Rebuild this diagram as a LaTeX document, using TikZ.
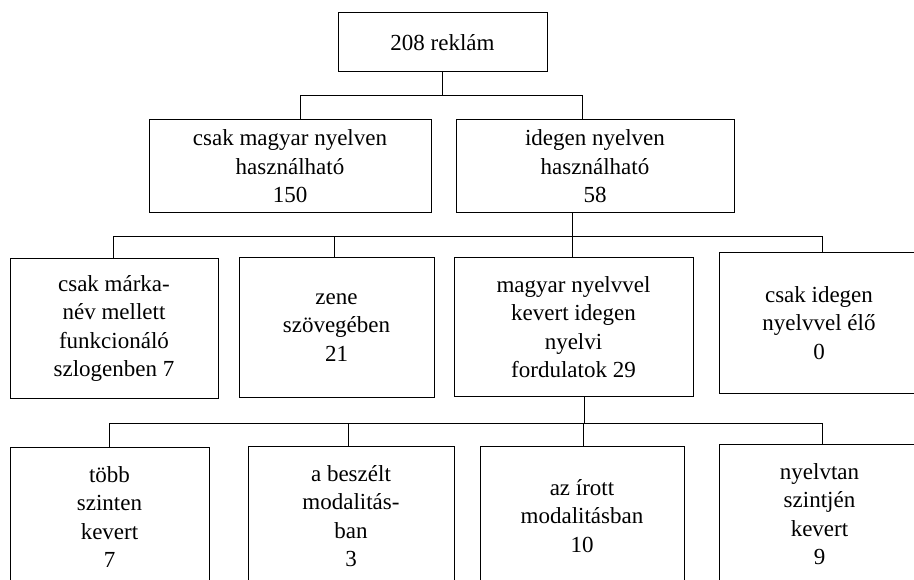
\documentclass[tikz,border=0pt]{standalone}
\usepackage{fontspec}
\setmainfont{Liberation Serif}
\usetikzlibrary{positioning}
\tikzset{
  box/.style={draw=black, line width=1pt, fill=white, inner sep=0pt, align=center,
    font={\fontsize{23}{28.5}\selectfont}},
  link/.style={draw=black, line width=1pt}
}
\begin{document}
\begin{tikzpicture}[x=1pt,y=-1pt]
\path[use as bounding box] (0,0) rectangle (914,580);
\clip (0,0) rectangle (914,580);
% level 1
\node[box, minimum width=209pt, minimum height=59pt] (top) at (442.5,42.5) {208 reklám};
% level 2
\node[box, minimum width=282pt, minimum height=93pt] (l2a) at (290,166.5) {csak magyar nyelven\\használható\\150};
\node[box, minimum width=278pt, minimum height=93pt] (l2b) at (595,166.5) {idegen nyelven\\használható\\58};
% level 3
\node[box, minimum width=208pt, minimum height=139pt] (a) at (114,328.5) {csak márka-\\név mellett\\funkcionáló\\szlogenben 7};
\node[box, minimum width=195pt, minimum height=139pt] (b) at (336.5,327.5) {zene\\szövegében\\21};
\node[box, minimum width=239pt, minimum height=138pt] (c) at (573.5,327) {magyar nyelvvel\\kevert idegen\\nyelvi\\fordulatok 29};
\node[box, minimum width=200pt, minimum height=140pt] (d) at (819,323) {csak idegen\\nyelvvel élő\\0};
% level 4
\node[box, minimum width=199pt, minimum height=140pt] (e) at (109.5,517) {több\\szinten\\kevert\\7};
\node[box, minimum width=206pt, minimum height=140pt] (f) at (351,516) {a beszélt\\modalitás-\\ban\\3};
\node[box, minimum width=204pt, minimum height=140pt] (g) at (582,516) {az írott\\modalitásban\\10};
\node[box, minimum width=200pt, minimum height=140pt] (h) at (819.5,514) {nyelvtan\\szintjén\\kevert\\9};
% bus heights
\coordinate (bus1) at (0,96);
\coordinate (bus2) at (0,237);
\coordinate (bus3) at (0,423);
% connectors level 1 -> 2
\draw[link] (top.south) -- (top.south |- bus1) -| ([xshift=10pt]l2a.north);
\draw[link] (top.south |- bus1) -| ([xshift=-13pt]l2b.north);
% connectors level 2 -> 3
\coordinate (s2) at ([xshift=-23pt]l2b.south);
\draw[link] (s2) -- (s2 |- bus2) -| ([xshift=-1pt]a.north);
\draw[link] (s2 |- bus2) -| ([xshift=-2.5pt]b.north);
\draw[link] (s2 |- bus2) -| ([xshift=-1.5pt]c.north);
\draw[link] (s2 |- bus2) -| ([xshift=3pt]d.north);
% connectors level 3 -> 4
\coordinate (s3) at ([xshift=10.5pt]c.south);
\draw[link] (s3) -- (s3 |- bus3) -| (e.north);
\draw[link] (s3 |- bus3) -| ([xshift=-3pt]f.north);
\draw[link] (s3 |- bus3) -| ([xshift=1pt]g.north);
\draw[link] (s3 |- bus3) -| ([xshift=2.5pt]h.north);
\end{tikzpicture}
\end{document}
